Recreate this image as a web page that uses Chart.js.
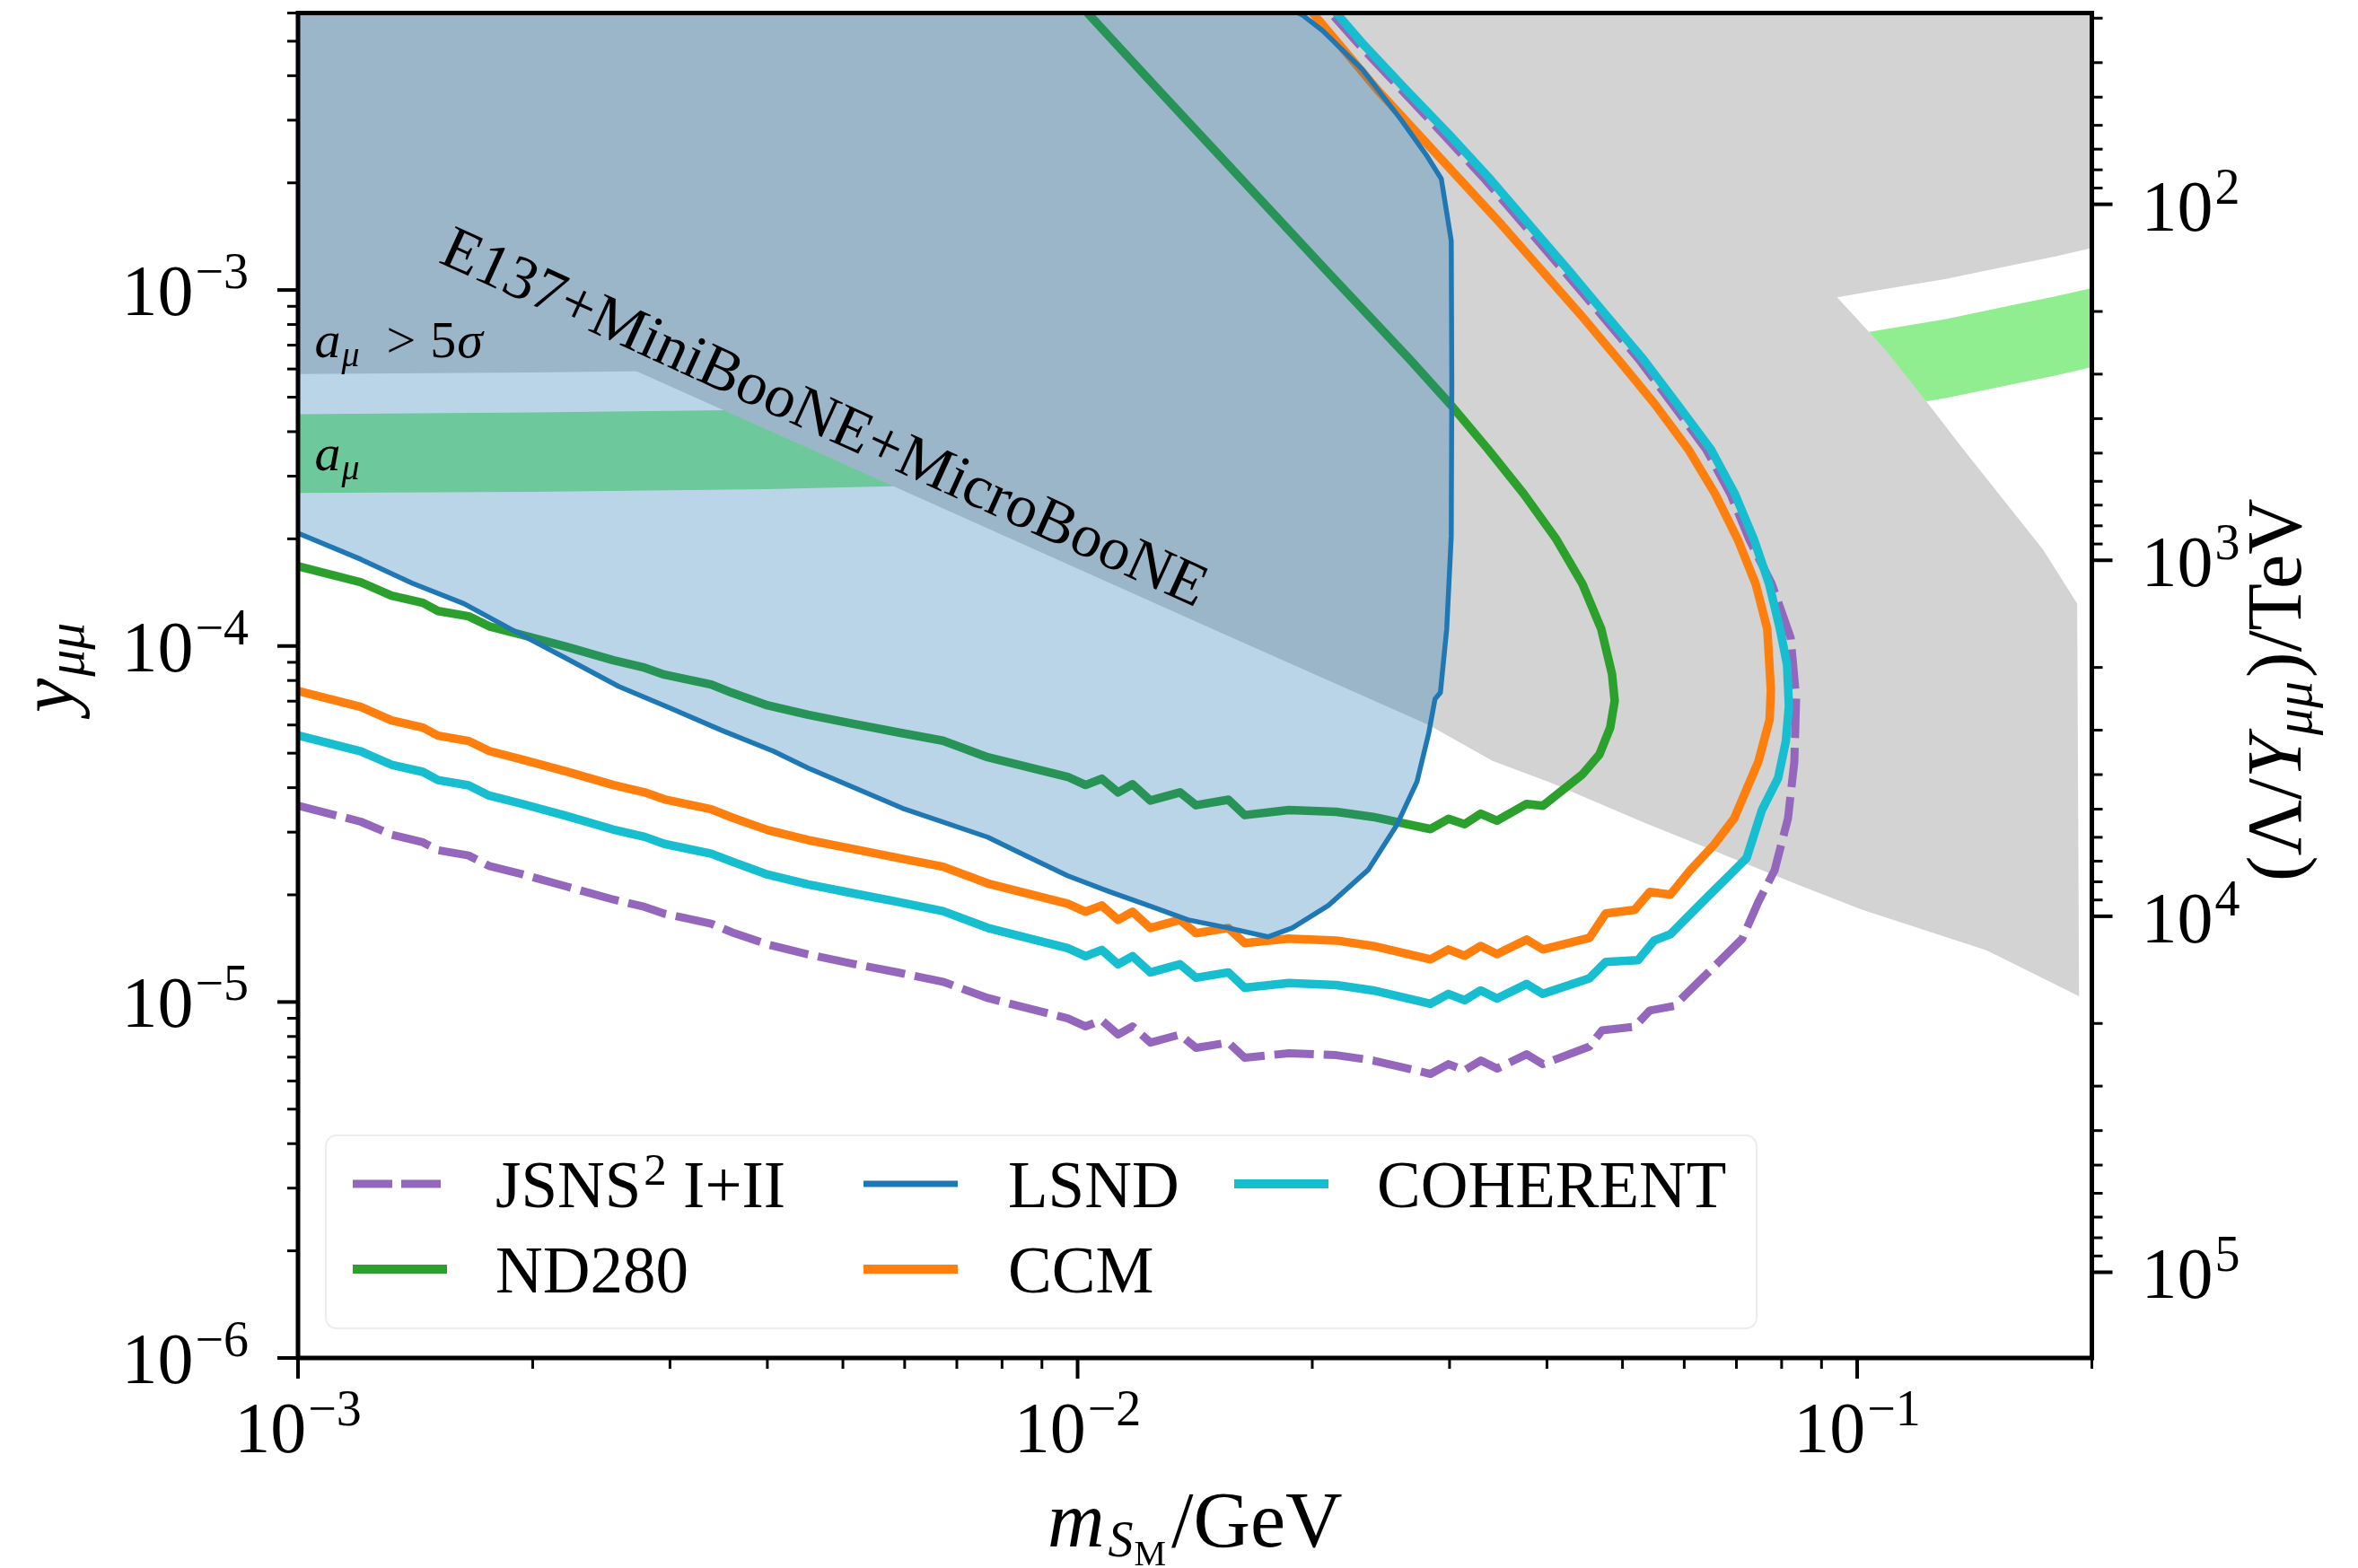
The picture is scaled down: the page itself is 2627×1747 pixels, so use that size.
<!DOCTYPE html>
<html>
<head>
<meta charset="utf-8">
<script src="https://cdn.jsdelivr.net/npm/chart.js@4.4.1/dist/chart.umd.min.js"></script>
<style>
  html, body { margin: 0; padding: 0; background: #ffffff; }
  canvas { display: block; }
</style>
</head>
<body>
<canvas id="limits" width="2627" height="1747" style="width:2627px;height:1747px"></canvas>
<script>
// ---------------------------------------------------------------------------
// Sensitivity / exclusion curves in the (m_S, y_mumu) plane
// ---------------------------------------------------------------------------

// Right axis: Lambda / Y = v / (sqrt(2) y), v/sqrt(2) in TeV
const VEV_OVER_SQRT2_TEV = 0.1741;

// Axis ranges
const massRange = [1e-3, 0.2];
const couplingRange = [1e-6, 6e-3];

// Tick values
const massMajorTicks = [1e-3, 1e-2, 1e-1];
const massTickLabels = ['\u22123', '\u22122', '\u22121'];
const couplingMajorTicks = [1e-6, 1e-5, 1e-4, 1e-3];
const couplingTickLabels = ['\u22126', '\u22125', '\u22124', '\u22123'];
const scaleMajorTicks = [1e2, 1e3, 1e4, 1e5];
const scaleTickLabels = ['2', '3', '4', '5'];

// Muon g-2: favoured band and > 5 sigma exclusion
const gm2Mass      = [0.001, 0.002, 0.004, 0.01, 0.02, 0.03, 0.0528, 0.074, 0.09, 0.1057, 0.13, 0.1585, 0.18, 0.2];
const gm2BandHigh  = [4.48e-4, 4.53e-4, 4.61e-4, 4.83e-4, 5.17e-4, 5.49e-4, 6.20e-4, 6.82e-4, 7.23e-4, 7.69e-4, 8.29e-4, 9.08e-4, 9.61e-4, 1.013e-3];
const gm2BandLow   = [2.69e-4, 2.71e-4, 2.76e-4, 2.89e-4, 3.10e-4, 3.29e-4, 3.72e-4, 4.08e-4, 4.33e-4, 4.61e-4, 4.97e-4, 5.44e-4, 5.76e-4, 6.07e-4];
const gm2FiveSigma = [5.81e-4, 5.87e-4, 5.97e-4, 6.25e-4, 6.70e-4, 7.11e-4, 8.03e-4, 8.83e-4, 9.37e-4, 9.96e-4, 1.074e-3, 1.176e-3, 1.245e-3, 1.312e-3];

// Beam-dump exclusion (E137 + MiniBooNE + MicroBooNE), closed outline
const beamDumpMass = [1.0e-3, 2.74e-3, 1.489e-2, 2.821e-2, 3.406e-2, 4.036e-2, 5.305e-2, 6.717e-2, 8.51e-2, 0.1016, 0.1465, 0.1926,
                      0.1915, 0.1732, 0.1368, 0.1240, 0.1089, 0.0943, 0.064, 1.0e-3];
const beamDumpCoupling = [1.576e-3, 5.87e-4, 1.117e-4, 6.0e-5, 4.756e-5, 4.137e-5, 3.204e-5, 2.600e-5, 2.109e-5, 1.814e-5, 1.397e-5, 1.038e-5,
                          1.315e-4, 1.863e-4, 3.570e-4, 4.72e-4, 6.76e-4, 9.53e-4, 6.0e-3, 6.0e-3];

// Mass grid of the low-mass branches of the projected sensitivities
const lowerMass = [1.0e-3, 1.204e-3, 1.318e-3, 1.446e-3, 1.512e-3, 1.655e-3, 1.759e-3, 1.931e-3, 2.211e-3, 2.538e-3,
                   2.784e-3, 2.951e-3, 3.388e-3, 3.601e-3, 4.004e-3, 4.512e-3, 5.152e-3, 5.884e-3, 6.718e-3, 7.669e-3,
                   9.712e-3, 1.024e-2, 1.074e-2, 1.127e-2, 1.176e-2, 1.240e-2, 1.353e-2, 1.419e-2, 1.561e-2, 1.638e-2,
                   1.866e-2, 2.147e-2, 2.393e-2, 2.836e-2, 2.990e-2, 3.136e-2, 3.290e-2, 3.451e-2, 3.767e-2, 3.952e-2];

// JSNS^2 I+II
const jsnsLower = [3.56e-5, 3.21e-5, 2.95e-5, 2.81e-5, 2.67e-5, 2.58e-5, 2.41e-5, 2.29e-5, 2.11e-5, 1.94e-5,
                   1.85e-5, 1.77e-5, 1.66e-5, 1.57e-5, 1.45e-5, 1.36e-5, 1.28e-5, 1.21e-5, 1.14e-5, 1.026e-5,
                   9.00e-6, 8.54e-6, 8.89e-6, 8.10e-6, 8.54e-6, 7.69e-6, 8.10e-6, 7.43e-6, 7.69e-6, 6.97e-6,
                   7.18e-6, 7.09e-6, 6.85e-6, 6.28e-6, 6.69e-6, 6.43e-6, 6.85e-6, 6.50e-6, 7.13e-6, 6.69e-6];
const jsnsTailMass = [4.536e-2, 4.707e-2, 5.180e-2, 5.419e-2, 5.821e-2, 6.40e-2, 7.120e-2, 7.468e-2, 7.834e-2, 8.152e-2,
                      8.306e-2, 8.350e-2, 8.217e-2, 7.918e-2, 7.77e-2, 7.27e-2, 6.88e-2, 6.40e-2, 5.80e-2, 5.25e-2,
                      4.695e-2, 4.19e-2, 3.737e-2, 3.334e-2, 2.951e-2, 2.605e-2, 2.300e-2, 2.113e-2];
const jsnsTail = [7.50e-6, 8.32e-6, 8.52e-6, 9.46e-6, 9.74e-6, 1.194e-5, 1.505e-5, 1.911e-5, 2.342e-5, 3.28e-5,
                  4.73e-5, 7.14e-5, 1.054e-4, 1.330e-4, 1.494e-4, 1.995e-4, 2.670e-4, 3.570e-4, 4.775e-4, 6.38e-4,
                  8.53e-4, 1.141e-3, 1.526e-3, 2.040e-3, 2.727e-3, 3.646e-3, 4.875e-3, 6.0e-3];

// ND280
const nd280Lower = [1.676e-4, 1.51e-4, 1.385e-4, 1.322e-4, 1.254e-4, 1.212e-4, 1.136e-4, 1.077e-4, 9.95e-5, 9.12e-5,
                    8.69e-5, 8.31e-5, 7.80e-5, 7.39e-5, 6.81e-5, 6.41e-5, 6.05e-5, 5.72e-5, 5.42e-5, 4.87e-5,
                    4.29e-5, 4.07e-5, 4.24e-5, 3.88e-5, 4.09e-5, 3.68e-5, 3.88e-5, 3.57e-5, 3.70e-5, 3.35e-5,
                    3.46e-5, 3.42e-5, 3.31e-5, 3.06e-5, 3.27e-5, 3.16e-5, 3.38e-5, 3.23e-5, 3.60e-5, 3.56e-5];
const nd280TailMass = [4.442e-2, 4.670e-2, 4.822e-2, 4.886e-2, 4.847e-2, 4.695e-2, 4.442e-2, 4.112e-2, 3.737e-2, 3.361e-2,
                       3.007e-2, 2.668e-2, 2.080e-2, 1.625e-2, 1.270e-2, 1.030e-2];
const nd280Tail = [4.36e-5, 4.955e-5, 5.90e-5, 7.02e-5, 8.35e-5, 1.117e-4, 1.494e-4, 1.995e-4, 2.670e-4, 3.570e-4,
                   4.775e-4, 6.38e-4, 1.141e-3, 2.040e-3, 3.646e-3, 6.0e-3];

// CCM
const ccmLower = [7.48e-5, 6.74e-5, 6.18e-5, 5.90e-5, 5.60e-5, 5.41e-5, 5.07e-5, 4.81e-5, 4.44e-5, 4.07e-5,
                  3.88e-5, 3.71e-5, 3.48e-5, 3.30e-5, 3.04e-5, 2.85e-5, 2.69e-5, 2.54e-5, 2.40e-5, 2.153e-5,
                  1.889e-5, 1.793e-5, 1.867e-5, 1.701e-5, 1.793e-5, 1.614e-5, 1.701e-5, 1.560e-5, 1.614e-5, 1.463e-5,
                  1.506e-5, 1.488e-5, 1.437e-5, 1.318e-5, 1.405e-5, 1.349e-5, 1.437e-5, 1.364e-5, 1.497e-5, 1.405e-5];
const ccmTailMass = [4.536e-2, 4.757e-2, 5.180e-2, 5.419e-2, 5.760e-2, 6.105e-2, 6.557e-2, 6.953e-2, 7.468e-2, 7.72e-2,
                     7.750e-2, 7.668e-2, 7.41e-2, 7.026e-2, 6.577e-2, 6.073e-2, 5.504e-2, 4.937e-2, 4.417e-2, 3.930e-2,
                     3.498e-2, 3.096e-2, 2.740e-2, 2.425e-2, 2.170e-2, 2.003e-2];
const ccmTail = [1.515e-5, 1.772e-5, 1.814e-5, 2.037e-5, 2.002e-5, 2.342e-5, 2.77e-5, 3.28e-5, 4.73e-5, 6.2e-5,
                 7.53e-5, 1.117e-4, 1.494e-4, 1.995e-4, 2.670e-4, 3.570e-4, 4.775e-4, 6.38e-4, 8.53e-4, 1.141e-3,
                 1.526e-3, 2.040e-3, 2.727e-3, 3.646e-3, 4.875e-3, 6.0e-3];

// COHERENT
const coherentLower = [5.61e-5, 5.06e-5, 4.64e-5, 4.43e-5, 4.20e-5, 4.06e-5, 3.80e-5, 3.61e-5, 3.33e-5, 3.05e-5,
                       2.91e-5, 2.78e-5, 2.61e-5, 2.48e-5, 2.28e-5, 2.14e-5, 2.02e-5, 1.91e-5, 1.80e-5, 1.615e-5,
                       1.417e-5, 1.345e-5, 1.400e-5, 1.276e-5, 1.345e-5, 1.211e-5, 1.276e-5, 1.170e-5, 1.211e-5, 1.097e-5,
                       1.130e-5, 1.116e-5, 1.078e-5, 9.89e-6, 1.054e-5, 1.012e-5, 1.078e-5, 1.023e-5, 1.123e-5, 1.054e-5];
const coherentTailMass = [4.536e-2, 4.757e-2, 5.235e-2, 5.490e-2, 5.760e-2, 6.40e-2, 6.88e-2, 7.215e-2, 7.547e-2, 7.918e-2,
                          8.10e-2, 8.174e-2, 8.13e-2, 7.96e-2, 7.71e-2, 7.37e-2, 6.97e-2, 6.49e-2, 5.88e-2, 5.32e-2,
                          4.757e-2, 4.256e-2, 3.797e-2, 3.388e-2, 2.999e-2, 2.640e-2, 2.331e-2, 2.147e-2];
const coherentTail = [1.166e-5, 1.295e-5, 1.310e-5, 1.488e-5, 1.550e-5, 1.956e-5, 2.288e-5, 2.54e-5, 3.46e-5, 4.26e-5,
                      5.4e-5, 6.78e-5, 8.86e-5, 1.117e-4, 1.494e-4, 1.995e-4, 2.670e-4, 3.570e-4, 4.775e-4, 6.38e-4,
                      8.53e-4, 1.141e-3, 1.526e-3, 2.040e-3, 2.727e-3, 3.646e-3, 4.875e-3, 6.0e-3];

// LSND (existing limit, region above/left of the contour is excluded)
const lsndMass = [1.0e-3, 1.204e-3, 1.401e-3, 1.633e-3, 1.900e-3, 2.211e-3, 2.578e-3, 2.999e-3, 3.499e-3, 4.068e-3,
                  4.512e-3, 5.963e-3, 7.669e-3, 8.646e-3, 9.712e-3, 1.094e-2, 1.233e-2, 1.386e-2, 1.561e-2, 1.754e-2,
                  1.885e-2, 2.097e-2, 2.361e-2, 2.565e-2, 2.725e-2, 2.821e-2, 2.874e-2, 2.920e-2, 2.975e-2, 3.015e-2,
                  3.02e-2, 3.015e-2, 2.928e-2, 2.799e-2, 2.605e-2, 2.318e-2, 2.063e-2, 1.947e-2, 1.920e-2];
const lsndCoupling = [2.074e-4, 1.752e-4, 1.502e-4, 1.315e-4, 1.098e-4, 9.22e-5, 7.70e-5, 6.70e-5, 5.79e-5, 5.07e-5,
                      4.54e-5, 3.50e-5, 2.904e-5, 2.555e-5, 2.262e-5, 2.049e-5, 1.867e-5, 1.701e-5, 1.614e-5, 1.524e-5,
                      1.614e-5, 1.867e-5, 2.355e-5, 3.13e-5, 4.16e-5, 5.69e-5, 7.10e-5, 7.40e-5, 1.117e-4, 2.032e-4,
                      5.36e-4, 1.374e-3, 2.052e-3, 2.400e-3, 2.992e-3, 4.17e-3, 5.35e-3, 5.90e-3, 6.0e-3];

// ---------------------------------------------------------------------------
const COLORS = {
  jsns: '#9467bd', nd280: '#2ca02c', lsnd: '#1f77b4', ccm: '#ff7f0e', coherent: '#17becf',
  gm2: '#90ee90', excluded: '#d3d3d3', lsndFill: 'rgba(31,119,180,0.31)'
};
const SERIF = "'Liberation Serif', 'DejaVu Serif', 'Times New Roman', serif";
const font = (size, italic) => (italic ? 'italic ' : '') + size + 'px ' + SERIF;

const toPoints = (xs, ys) => xs.map((x, i) => ({ x, y: ys[i] }));
const hidden = 'rgba(0,0,0,0)';

function areaSet(label, points, color, fill, order) {
  return { label, data: points, borderColor: hidden, borderWidth: 0, backgroundColor: color,
           fill, pointRadius: 0, order };
}
function curveSet(label, points, color, width, order, dash) {
  return { label, data: points, borderColor: color, borderWidth: width, backgroundColor: color,
           fill: false, pointRadius: 0, order, borderDash: dash || [],
           borderJoinStyle: 'round', borderCapStyle: dash ? 'butt' : 'round' };
}

const datasets = [
  areaSet('g-2 band low', toPoints(gm2Mass, gm2BandLow), hidden, false, 20),
  areaSet('a_mu', toPoints(gm2Mass, gm2BandHigh), COLORS.gm2, '-1', 19),
  areaSet('a_mu > 5 sigma', toPoints(gm2Mass, gm2FiveSigma), COLORS.excluded, 'end', 18),
  areaSet('E137+MiniBooNE+MicroBooNE', toPoints(beamDumpMass, beamDumpCoupling), COLORS.excluded, 'shape', 17),
  curveSet('JSNS\u00b2 I+II', toPoints(lowerMass.concat(jsnsTailMass), jsnsLower.concat(jsnsTail)), COLORS.jsns, 9, 8, [44, 11]),
  curveSet('ND280', toPoints(lowerMass.concat(nd280TailMass), nd280Lower.concat(nd280Tail)), COLORS.nd280, 9.5, 7),
  curveSet('CCM', toPoints(lowerMass.concat(ccmTailMass), ccmLower.concat(ccmTail)), COLORS.ccm, 9.5, 6),
  curveSet('COHERENT', toPoints(lowerMass.concat(coherentTailMass), coherentLower.concat(coherentTail)), COLORS.coherent, 9.5, 5),
  areaSet('LSND region', toPoints(lsndMass.concat([massRange[0]]), lsndCoupling.concat([couplingRange[1]])), COLORS.lsndFill, 'shape', 2),
  curveSet('LSND', toPoints(lsndMass, lsndCoupling), COLORS.lsnd, 5.5, 1)
];

// ---------------------------------------------------------------------------
// Text helpers: sequences of differently styled pieces (sub/superscripts)
function richWidth(ctx, parts) {
  let w = 0;
  for (const p of parts) {
    ctx.font = p.font;
    w += (p.pre || 0) + ctx.measureText(p.t).width;
  }
  return w;
}
function drawRich(ctx, parts, x, y, align) {
  const w = richWidth(ctx, parts);
  let cx = align === 'center' ? x - w / 2 : align === 'right' ? x - w : x;
  for (const p of parts) {
    ctx.font = p.font;
    cx += p.pre || 0;
    ctx.fillText(p.t, cx, y + (p.dy || 0));
    cx += ctx.measureText(p.t).width;
  }
}
const powerParts = exp => [
  { t: '10', font: font(80) },
  { t: exp, font: font(56), dy: -30, pre: 2 }
];
const minorsFor = (majors, upper) => {
  const out = [];
  for (const m of majors) for (let k = 2; k <= 9; k++) if (m * k <= upper * 1.0001) out.push(m * k);
  return out;
};

const decorations = {
  id: 'decorations',
  afterDatasetsDraw(chart) {
    const { ctx, chartArea: a } = chart;
    const sx = chart.scales.x, sy = chart.scales.y, sr = chart.scales.y2;
    ctx.save();
    ctx.fillStyle = '#000';
    ctx.strokeStyle = '#000';
    ctx.textBaseline = 'alphabetic';

    // in-plot annotations
    drawRich(ctx, [
      { t: 'a', font: font(58, true) },
      { t: '\u03bc', font: font(40, true), dy: 10, pre: 1 },
      { t: '>', font: font(58), pre: 30 },
      { t: '5', font: font(58), pre: 16 },
      { t: '\u03c3', font: font(58, true), pre: 1 }
    ], sx.getPixelForValue(1.05e-3), sy.getPixelForValue(6.46e-4), 'left');
    drawRich(ctx, [
      { t: 'a', font: font(58, true) },
      { t: '\u03bc', font: font(40, true), dy: 10, pre: 1 }
    ], sx.getPixelForValue(1.05e-3), sy.getPixelForValue(3.12e-4), 'left');

    const e137 = 'E137+MiniBooNE+MicroBooNE';
    ctx.save();
    ctx.translate(sx.getPixelForValue(1.509e-3), sy.getPixelForValue(1.2e-3));
    ctx.rotate(24.5 * Math.PI / 180);
    ctx.font = font(100);
    const size = 100 * 930 / ctx.measureText(e137).width;
    ctx.font = font(size.toFixed(1));
    ctx.fillText(e137, 0, 0);
    ctx.restore();

    // frame
    ctx.lineWidth = 5;
    ctx.lineJoin = 'miter';
    ctx.strokeRect(a.left, a.top, a.right - a.left, a.bottom - a.top);

    // ticks
    const tick = (pos, len, width, side) => {
      ctx.lineWidth = width;
      ctx.beginPath();
      if (side === 'bottom') { ctx.moveTo(pos, a.bottom); ctx.lineTo(pos, a.bottom + len); }
      if (side === 'left') { ctx.moveTo(a.left, pos); ctx.lineTo(a.left - len, pos); }
      if (side === 'right') { ctx.moveTo(a.right, pos); ctx.lineTo(a.right + len, pos); }
      ctx.stroke();
    };
    massMajorTicks.forEach(v => tick(sx.getPixelForValue(v), 23, 4, 'bottom'));
    minorsFor(massMajorTicks, massRange[1]).forEach(v => tick(sx.getPixelForValue(v), 12, 3, 'bottom'));
    couplingMajorTicks.forEach(v => tick(sy.getPixelForValue(v), 23, 4, 'left'));
    minorsFor(couplingMajorTicks, couplingRange[1]).forEach(v => tick(sy.getPixelForValue(v), 12, 3, 'left'));
    scaleMajorTicks.forEach(v => tick(sr.getPixelForValue(v), 23, 4, 'right'));
    minorsFor([10].concat(scaleMajorTicks), sr.max).filter(v => v >= sr.min).forEach(v => tick(sr.getPixelForValue(v), 12, 3, 'right'));

    // tick labels
    massMajorTicks.forEach((v, i) => drawRich(ctx, powerParts(massTickLabels[i]), sx.getPixelForValue(v), a.bottom + 105, 'center'));
    couplingMajorTicks.forEach((v, i) => drawRich(ctx, powerParts(couplingTickLabels[i]), a.left - 55, sy.getPixelForValue(v) + 28, 'right'));
    scaleMajorTicks.forEach((v, i) => drawRich(ctx, powerParts(scaleTickLabels[i]), a.right + 55, sr.getPixelForValue(v) + 29, 'left'));

    // axis titles
    drawRich(ctx, [
      { t: 'm', font: font(88, true) },
      { t: 'S', font: font(56, true), dy: 11, pre: 4 },
      { t: 'M', font: font(40), dy: 21, pre: 1 },
      { t: '/GeV', font: font(88), pre: 6 }
    ], (a.left + a.right) / 2, a.bottom + 210, 'center');

    ctx.save();
    ctx.translate(81, (a.top + a.bottom) / 2 - 20);
    ctx.rotate(-Math.PI / 2);
    drawRich(ctx, [
      { t: 'y', font: font(86, true) },
      { t: '\u03bc\u03bc', font: font(60, true), dy: 12, pre: 2 }
    ], 0, 0, 'center');
    ctx.restore();

    ctx.save();
    ctx.translate(a.right + 232, (a.top + a.bottom) / 2 + 5);
    ctx.rotate(-Math.PI / 2);
    drawRich(ctx, [
      { t: '(\u039b/', font: font(86) },
      { t: 'Y', font: font(86, true) },
      { t: '\u03bc\u03bc', font: font(60, true), dy: 12, pre: 0 },
      { t: ')/TeV', font: font(86), pre: 4 }
    ], 0, 0, 'center');
    ctx.restore();

    // legend
    const box = { x: a.left + 31, y: 1265, w: 1594, h: 215, r: 12 };
    ctx.beginPath();
    ctx.roundRect(box.x, box.y, box.w, box.h, box.r);
    ctx.fillStyle = 'rgba(255,255,255,0.8)';
    ctx.fill();
    ctx.lineWidth = 2;
    ctx.strokeStyle = 'rgba(225,225,225,0.6)';
    ctx.stroke();

    const handleX = [393, 962, 1375], textX = [552, 1123, 1534], rowY = [1319, 1414];
    const entries = [
      { col: 0, row: 0, color: COLORS.jsns, width: 9, dash: [44, 10],
        parts: [{ t: 'JSNS', font: font(73) }, { t: '2', font: font(51), dy: -25, pre: 3 }, { t: ' I+II', font: font(73) }] },
      { col: 0, row: 1, color: COLORS.nd280, width: 10, parts: [{ t: 'ND280', font: font(73) }] },
      { col: 1, row: 0, color: COLORS.lsnd, width: 7, parts: [{ t: 'LSND', font: font(73) }] },
      { col: 1, row: 1, color: COLORS.ccm, width: 10, parts: [{ t: 'CCM', font: font(73) }] },
      { col: 2, row: 0, color: COLORS.coherent, width: 10, parts: [{ t: 'COHERENT', font: font(73) }] }
    ];
    for (const e of entries) {
      const y = rowY[e.row];
      ctx.save();
      ctx.strokeStyle = e.color;
      ctx.lineWidth = e.width;
      ctx.lineCap = 'butt';
      ctx.setLineDash(e.dash || []);
      ctx.beginPath();
      ctx.moveTo(handleX[e.col], y);
      ctx.lineTo(handleX[e.col] + 105, y);
      ctx.stroke();
      ctx.restore();
      ctx.fillStyle = '#000';
      drawRich(ctx, e.parts, textX[e.col], y + 26, 'left');
    }
    ctx.restore();
  }
};

Chart.defaults.font.family = SERIF;

new Chart(document.getElementById('limits'), {
  type: 'line',
  data: { datasets },
  options: {
    responsive: false,
    animation: false,
    devicePixelRatio: 1,
    layout: { padding: { left: 332, top: 14.5, right: 296.5, bottom: 234 } },
    scales: {
      x: { type: 'logarithmic', min: massRange[0], max: massRange[1], display: false },
      y: { type: 'logarithmic', min: couplingRange[0], max: couplingRange[1], display: false },
      y2: { type: 'logarithmic', position: 'right', reverse: true,
            min: VEV_OVER_SQRT2_TEV / couplingRange[1], max: VEV_OVER_SQRT2_TEV / couplingRange[0], display: false }
    },
    plugins: { legend: { display: false }, tooltip: { enabled: false } },
    elements: { line: { tension: 0 }, point: { radius: 0 } }
  },
  plugins: [decorations]
});
</script>
</body>
</html>
